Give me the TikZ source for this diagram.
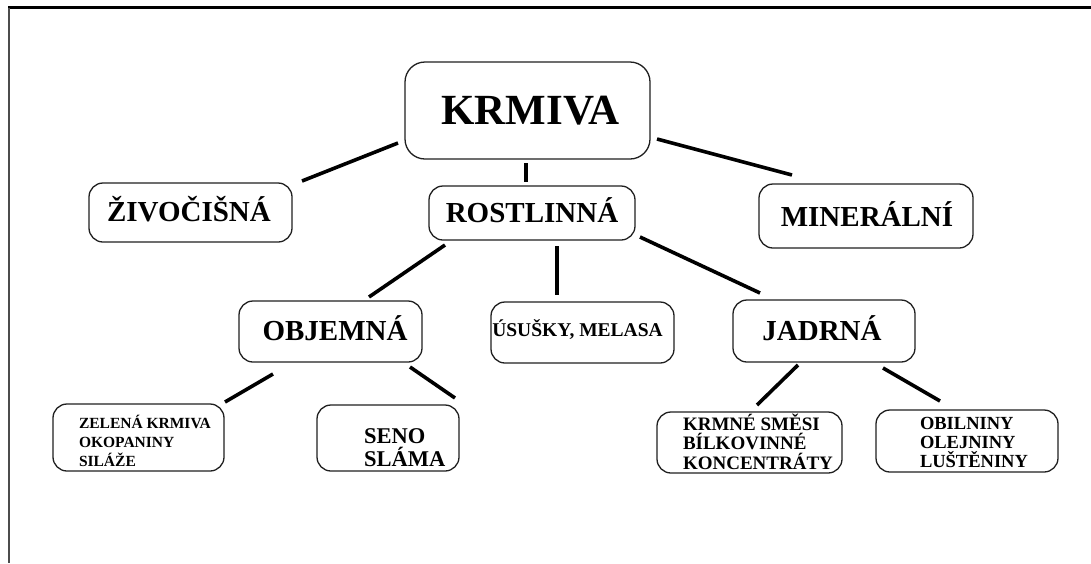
\documentclass[tikz,border=0pt]{standalone}
\usepackage{fontspec}
\setmainfont{Liberation Serif}
\usetikzlibrary{calc}
\newcommand\txtL[3]{\makebox[0pt][l]{\hspace*{#1}\raisebox{#2}[0pt][0pt]{\vtop{\lineskiplimit=-100pt\lineskip=0pt\halign{##\hfil\cr#3\crcr}}}}}
\newcommand\txtC[3]{\makebox[0pt][c]{\kern#1\relax\raisebox{#2}[0pt][0pt]{\vtop{\lineskiplimit=-100pt\lineskip=0pt\halign{\hfil##\hfil\cr#3\crcr}}}\kern-#1\relax}}
\begin{document}
\begin{tikzpicture}[x=1pt,y=-1pt,
  box/.style={draw=gray!25!black, line width=1.3pt, rounded corners=14pt, inner sep=0pt, fill=white},
  big/.style={font=\bfseries\fontsize{29}{32}\selectfont},
  conn/.style={line width=3.6pt, black}]
\useasboundingbox (0,0) rectangle (1091,563);
\fill[white] (0,0) rectangle (1091,563);
% frame
\draw[line width=2.5pt] (8,7.5) -- (1091,7.5);
\draw[line width=2pt, gray!60!black] (9,7.5) -- (9,563);
% nodes
\node[box, minimum width=245pt, minimum height=97pt, rounded corners=20pt, font=\bfseries\fontsize{43}{50}\selectfont] (krmiva) at (527.5,110.5) {\txtC{3pt}{-13.5pt}{KRMIVA}};
\node[box, big, minimum width=206pt, minimum height=54pt] (rost) at (532,213) {\txtC{0pt}{-9.7pt}{ROSTLINNÁ}};
\node[box, big, minimum width=203pt, minimum height=59pt] (zivo) at (190.5,212.5) {\txtC{-1.5pt}{-9.2pt}{ŽIVOČIŠNÁ}};
\node[box, big, minimum width=214pt, minimum height=64pt] (miner) at (866,216) {\txtC{1pt}{-10.7pt}{MINERÁLNÍ}};
\node[box, big, minimum width=183pt, minimum height=61pt] (objem) at (330.5,331.5) {\txtC{4.5pt}{-8.5pt}{OBJEMNÁ}};
\node[box, minimum width=183pt, minimum height=61pt, font=\bfseries\fontsize{19.5}{22}\selectfont] (usus) at (582.5,332.5) {\txtC{-5pt}{-4.2pt}{ÚSUŠKY, MELASA}};
\node[box, big, minimum width=182pt, minimum height=62pt] (jadr) at (824,331) {\txtC{-2pt}{-9pt}{JADRNÁ}};
\node[box, minimum width=171pt, minimum height=67pt, font=\bfseries\fontsize{15.5}{19}\selectfont] (zel) at (138.5,437.5) {\txtL{-59.5pt}{9.5pt}{ZELENÁ KRMIVA\cr OKOPANINY\cr SILÁŽE}};
\node[box, minimum width=142pt, minimum height=66pt, font=\bfseries\fontsize{22.5}{23.5}\selectfont] (seno) at (388,438) {\txtL{-24pt}{-5pt}{SENO\cr SLÁMA}};
\node[box, minimum width=185pt, minimum height=61pt, font=\bfseries\fontsize{19}{19.5}\selectfont] (krmne) at (749.5,442.5) {\txtL{-66.5pt}{12.5pt}{KRMNÉ SMĚSI\cr BÍLKOVINNÉ\cr KONCENTRÁTY}};
\node[box, minimum width=182pt, minimum height=62pt, font=\bfseries\fontsize{18.5}{19}\selectfont] (obil) at (967,441) {\txtL{-47pt}{12pt}{OBILNINY\cr OLEJNINY\cr LUŠTĚNINY}};
% connectors
\draw[conn] ($(krmiva.center)+(-129.5,32.5)$) -- ($(zivo.center)+(111.5,-31.5)$);
\draw[conn] ($(krmiva.center)+(-1.5,52.5)$) -- ($(rost.center)+(-6,-31)$);
\draw[conn] ($(krmiva.center)+(129.5,28.5)$) -- ($(miner.center)+(-74,-41)$);
\draw[conn] ($(rost.center)+(-87,32)$) -- ($(objem.center)+(38.5,-34.5)$);
\draw[conn] ($(rost.center)+(25,33)$) -- ($(usus.center)+(-25.5,-37.5)$);
\draw[conn] ($(rost.center)+(108,24)$) -- ($(jadr.center)+(-64,-38)$);
\draw[conn] ($(objem.center)+(-57.5,42.5)$) -- ($(zel.center)+(86.5,-35.5)$);
\draw[conn] ($(objem.center)+(79.5,35.5)$) -- ($(seno.center)+(67,-40)$);
\draw[conn] ($(jadr.center)+(-26,34)$) -- ($(krmne.center)+(7.5,-37.5)$);
\draw[conn] ($(jadr.center)+(59,37)$) -- ($(obil.center)+(-27,-40)$);
\end{tikzpicture}
\end{document}
